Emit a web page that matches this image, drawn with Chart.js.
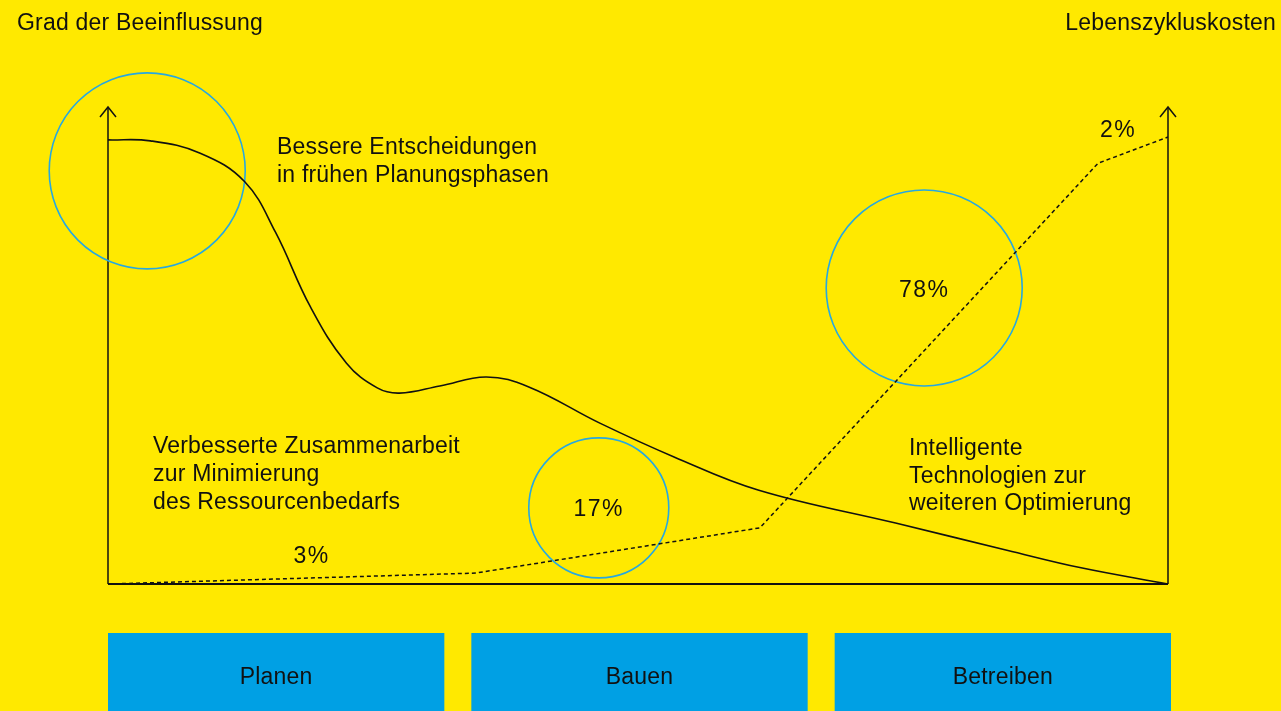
<!DOCTYPE html>
<html lang="de">
<head>
<meta charset="utf-8">
<title>Lebenszykluskosten</title>
<script src="https://cdn.jsdelivr.net/npm/chart.js@4.4.1/dist/chart.umd.min.js"></script>
<style>
  html, body { margin: 0; padding: 0; overflow: hidden; background: #FFE900; }
  #wrap { position: relative; width: 1281px; height: 711px; }
</style>
</head>
<body>
<div id="wrap"><canvas id="phaseChart"></canvas></div>
<script>
// Grad der Beeinflussung (solid curve), x = project progress 0..100
const influenceX = [0, 4.0, 8.7, 12.9, 15.8, 19.1, 22.5, 25.4, 27.5, 31.3, 35.7, 39.7, 46.4, 53.4, 61.4, 74.3, 84.8, 91.8, 100];
const influenceY = [93.3, 93.1, 90.5, 84.5, 73.9, 58.2, 46.4, 41.2, 40.1, 41.6, 43.5, 41.4, 33.8, 26.7, 19.7, 12.8, 7.1, 3.4, 0];

// Lebenszykluskosten (dashed line)
const costX = [0, 34.7, 61.5, 93.4, 100];
const costY = [0, 2.3, 11.8, 88.4, 93.9];

// blue circles
const circleX = [3.7, 46.3, 77.0];
const circleY = [86.8, 16.0, 62.2];
const circleR = [98, 70, 98];

const phases = ['Planen', 'Bauen', 'Betreiben'];
const axisTitles = ['Grad der Beeinflussung', 'Lebenszykluskosten'];
const shareLabels = ['3%', '17%', '78%', '2%'];
const notePlanen = ['Bessere Entscheidungen', 'in frühen Planungsphasen'];
const noteBauen = ['Verbesserte Zusammenarbeit', 'zur Minimierung', 'des Ressourcenbedarfs'];
const noteBetreiben = ['Intelligente', 'Technologien zur', 'weiteren Optimierung'];

const FONT = '23px "Liberation Sans", Arial, sans-serif';
const INK = '#111111';
const BLUE = '#00A0E4';
const RING = '#27A8E0';

function toPoints(xs, ys) {
    return xs.map((x, i) => ({ x: x, y: ys[i] }));
}

function text(ctx, str, x, y, align, spacing) {
    ctx.save();
    ctx.font = FONT;
    ctx.fillStyle = INK;
    ctx.textAlign = align || 'left';
    ctx.textBaseline = 'alphabetic';
    ctx.letterSpacing = (spacing == null ? 0.2 : spacing) + 'px';
    ctx.fillText(str, x, y);
    ctx.restore();
}

// axes with arrow tips, phase boxes, and all the notes
const decor = {
    id: 'decor',
    beforeDatasetsDraw(chart) {
        const ctx = chart.ctx;
        const a = chart.chartArea;
        ctx.save();
        ctx.strokeStyle = INK;
        ctx.lineWidth = 1.5;
        [a.left, a.right].forEach(x => {
            ctx.beginPath();
            ctx.moveTo(x, a.bottom);
            ctx.lineTo(x, a.top - 1);
            ctx.stroke();
            ctx.beginPath();
            ctx.moveTo(x - 8, a.top + 9);
            ctx.lineTo(x, a.top - 1);
            ctx.lineTo(x + 8, a.top + 9);
            ctx.stroke();
        });
        ctx.lineWidth = 2;
        ctx.beginPath();
        ctx.moveTo(a.left, a.bottom);
        ctx.lineTo(a.right, a.bottom);
        ctx.stroke();
        ctx.restore();
    },
    afterDatasetsDraw(chart) {
        const ctx = chart.ctx;
        const a = chart.chartArea;
        const xs = chart.scales.x;
        const ys = chart.scales.y;

        // phase boxes under the axis
        const gap = 27;
        const w = (a.width + 3 - 2 * gap) / 3;
        phases.forEach((p, i) => {
            const left = a.left + i * (w + gap);
            ctx.fillStyle = BLUE;
            ctx.fillRect(left, 633, w, chart.height - 633);
            text(ctx, p, left + w / 2, 684, 'center');
        });

        text(ctx, axisTitles[0], 17, 30, 'left');
        text(ctx, axisTitles[1], 1276, 30, 'right');

        notePlanen.forEach((s, i) => text(ctx, s, 277, 154 + i * 28, 'left'));
        noteBauen.forEach((s, i) => text(ctx, s, 153, 453 + i * 28, 'left'));
        noteBetreiben.forEach((s, i) => text(ctx, s, 909, 455 + i * 27.5, 'left'));

        // share labels: 3% near the early cost line, 17% / 78% in the circles, 2% at the end
        text(ctx, shareLabels[0], xs.getPixelForValue(19.2), ys.getPixelForValue(4.4), 'center', 1.5);
        text(ctx, shareLabels[1], xs.getPixelForValue(circleX[1]), ys.getPixelForValue(circleY[1]) + 8, 'center', 1.5);
        text(ctx, shareLabels[2], xs.getPixelForValue(circleX[2]), ys.getPixelForValue(circleY[2]) + 9, 'center', 1.5);
        text(ctx, shareLabels[3], xs.getPixelForValue(95.3), ys.getPixelForValue(93.9), 'center', 1.5);
    }
};

new Chart(document.getElementById('phaseChart'), {
    type: 'line',
    data: {
        datasets: [{
            label: 'Grad der Beeinflussung',
            data: toPoints(influenceX, influenceY),
            borderColor: INK,
            borderWidth: 1.6,
            pointRadius: 0,
            tension: 0.4,
            fill: false
        }, {
            label: 'Lebenszykluskosten',
            data: toPoints(costX, costY),
            borderColor: INK,
            borderWidth: 1.5,
            borderDash: [4, 3],
            pointRadius: 0,
            tension: 0,
            fill: false
        }, {
            type: 'bubble',
            label: 'Anteil',
            data: circleX.map((x, i) => ({ x: x, y: circleY[i], r: circleR[i] })),
            backgroundColor: 'rgba(0,0,0,0)',
            borderColor: RING,
            borderWidth: 1.6,
            hoverRadius: 0,
            clip: false
        }]
    },
    options: {
        responsive: true,
        maintainAspectRatio: false,
        animation: false,
        events: [],
        layout: { padding: { left: 108, right: 113, top: 108, bottom: 127 } },
        plugins: {
            legend: { display: false },
            tooltip: { enabled: false }
        },
        scales: {
            x: { type: 'linear', min: 0, max: 100, display: false },
            y: { type: 'linear', min: 0, max: 100, display: false }
        }
    },
    plugins: [decor]
});
</script>
</body>
</html>
